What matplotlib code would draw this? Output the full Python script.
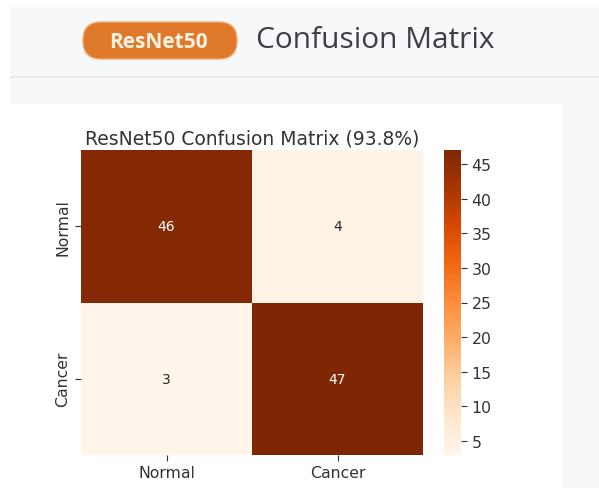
import numpy as np
import matplotlib
matplotlib.use("Agg")
import matplotlib.pyplot as plt
import seaborn as sns
from matplotlib.patches import Rectangle, FancyBboxPatch

# confusion matrix values
labels = ["Normal", "Cancer"]
cm = np.array([[46, 4],
               [3, 47]])
accuracy = 93.8
model_name = "ResNet50"

W, H = 599, 489
fig = plt.figure(figsize=(W / 100, H / 100), dpi=100)
fig.patch.set_facecolor("#f7f8fa")

# background axes in pixel coordinates (top-left origin)
bg = fig.add_axes([0, 0, 1, 1], zorder=-1)
bg.set_xlim(0, W)
bg.set_ylim(H, 0)
bg.axis("off")


def px_rect(x0, y0, x1, y1, color):
    bg.add_patch(Rectangle((x0, y0), x1 - x0, y1 - y0, facecolor=color, edgecolor="none"))


# page background pieces
px_rect(0, 0, W, 8, "white")
px_rect(0, 0, 10, H, "white")
px_rect(10, 77, W, 79, "#e6e8eb")
px_rect(10, 105, 562, H, "white")

# header pill + title
bg.add_patch(FancyBboxPatch((83, 23), 154, 37, boxstyle="round,pad=0,rounding_size=18",
                            facecolor="#e07a2b", edgecolor="#f2ad70", linewidth=1.0))
bg.text(158, 42, model_name, ha="center", va="center",
        fontsize=15, fontweight="bold", color="#fdf1e2", family="Open Sans")
bg.text(256, 40, "Confusion Matrix", ha="left", va="center",
        fontsize=21.5, color="#3c3f45", family="Open Sans")

# heatmap
fs = 11.3
ax = fig.add_axes([81 / W, 1 - 456 / H, 342 / W, 305 / H])
cax = fig.add_axes([444 / W, 1 - 456 / H, 17 / W, 305 / H])
sns.heatmap(cm, annot=True, fmt="d", cmap="Oranges", ax=ax, cbar_ax=cax,
            xticklabels=labels, yticklabels=labels, annot_kws={"fontsize": 10})
ax.set_title(f"{model_name} Confusion Matrix ({accuracy}%)", fontsize=13.5, color="#333333", pad=5)
ax.set_yticklabels(labels, rotation=90, va="center", fontsize=fs)
ax.set_xticklabels(labels, rotation=0, fontsize=fs)
ax.tick_params(colors="#333333", length=4)
cax.tick_params(labelsize=fs, colors="#333333", length=4)

fig.savefig("out.png", dpi=100, facecolor=fig.get_facecolor())
